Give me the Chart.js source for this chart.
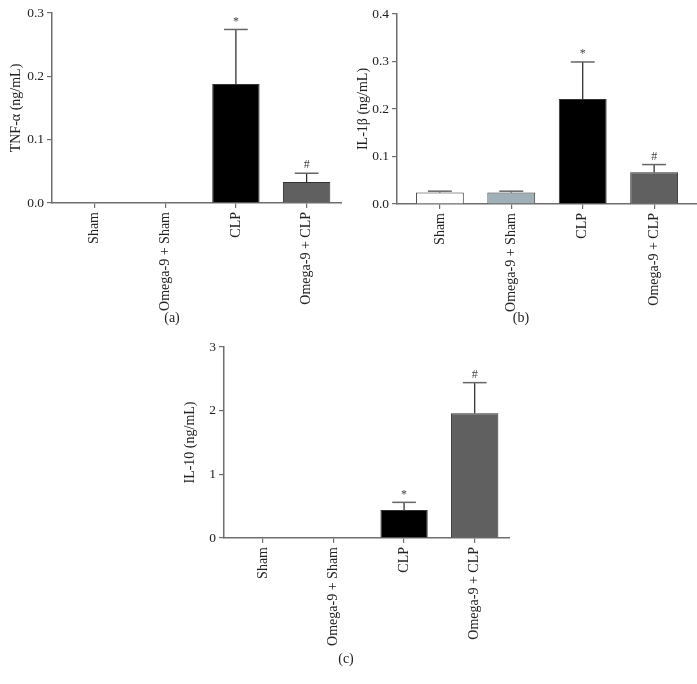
<!DOCTYPE html>
<html>
<head>
<meta charset="utf-8">
<script src="https://cdn.jsdelivr.net/npm/chart.js@4"></script>
<style>
  body { margin: 0; background: #fff; width: 697px; height: 684px; position: relative; overflow: hidden; }
  .panel { position: absolute; }
  .cap { position: absolute; font-family: "Liberation Serif", serif; font-size: 14px; color: #222; transform: translateX(-50%); }
</style>
</head>
<body>
<div class="panel" style="left:0;top:0"><canvas id="graficoA" width="342" height="320"></canvas></div>
<div class="panel" style="left:345px;top:0"><canvas id="graficoB" width="352" height="320"></canvas></div>
<div class="panel" style="left:172px;top:334px"><canvas id="graficoC" width="338" height="330"></canvas></div>
<div class="cap" style="left:172px;top:310px">(a)</div>
<div class="cap" style="left:521px;top:310px">(b)</div>
<div class="cap" style="left:346px;top:651px">(c)</div>
<script>
// grupos
const grupos = ['Sham', 'Omega-9 + Sham', 'CLP', 'Omega-9 + CLP'];

// (a) TNF-alpha
const tnfMedia = [0, 0, 0.188, 0.033];
const tnfErro = [null, null, 0.086, 0.014];
const tnfMarca = ['', '', '*', '#'];

// (b) IL-1beta
const il1Media = [0.024, 0.024, 0.221, 0.067];
const il1Erro = [0.003, 0.003, 0.078, 0.016];
const il1Marca = ['', '', '*', '#'];

// (c) IL-10
const il10Media = [0, 0, 0.44, 1.96];
const il10Erro = [null, null, 0.12, 0.48];
const il10Marca = ['', '', '*', '#'];

const coresBarras = ['#ffffff', '#9fb0b8', '#000000', '#606060'];
const corEixo = '#6e6e6e';
const fonte = '"Liberation Serif", "Times New Roman", serif';

// barras de erro (so para cima) e marcas de significancia
const errosPlugin = {
    id: 'erros',
    afterDatasetsDraw(chart, args, opts) {
        const ctx = chart.ctx;
        const y = chart.scales.y;
        const meta = chart.getDatasetMeta(0);
        const ds = chart.data.datasets[0];
        meta.data.forEach((bar, i) => {
            const err = opts.erros[i];
            if (err == null) return;
            const v = ds.data[i].y;
            const topo = y.getPixelForValue(v + err);
            const base = bar.y;
            const meia = bar.width / 4;
            ctx.save();
            ctx.strokeStyle = '#222';
            ctx.lineWidth = 1.2;
            ctx.beginPath();
            ctx.moveTo(bar.x, base);
            ctx.lineTo(bar.x, topo);
            ctx.stroke();
            ctx.strokeStyle = '#666';
            ctx.lineWidth = 1.5;
            ctx.beginPath();
            ctx.moveTo(bar.x - meia, topo);
            ctx.lineTo(bar.x + meia, topo);
            ctx.stroke();
            if (opts.marcas[i]) {
                ctx.fillStyle = '#444';
                ctx.font = '12px ' + fonte;
                ctx.textAlign = 'center';
                ctx.textBaseline = 'bottom';
                ctx.fillText(opts.marcas[i], bar.x, topo - 2);
            }
            ctx.restore();
        });
    }
};

function criaGrafico(id, media, erro, marca, cfg) {
    return new Chart(document.getElementById(id), {
        type: 'bar',
        data: {
            datasets: [{
                data: media.map((v, i) => ({ x: i, y: v })),
                backgroundColor: coresBarras,
                borderColor: '#333',
                borderWidth: media.map(v => v > 0 ? 1 : 0),
                categoryPercentage: 1,
                barPercentage: 0.67
            }]
        },
        options: {
            responsive: false,
            animation: false,
            devicePixelRatio: 1,
            layout: { padding: { top: cfg.topo, right: 0, left: 0, bottom: 0 } },
            plugins: {
                legend: { display: false },
                tooltip: { enabled: false },
                erros: { erros: erro, marcas: marca }
            },
            scales: {
                x: {
                    type: 'linear',
                    offset: false,
                    min: cfg.xMin,
                    max: cfg.xMax,
                    afterBuildTicks: s => { s.ticks = grupos.map((g, i) => ({ value: i })); },
                    afterFit: s => { s.height = cfg.alturaX; },
                    border: { display: true, color: corEixo, width: 1.5 },
                    grid: { display: true, offset: false, drawOnChartArea: false, drawTicks: true, tickLength: 5, color: corEixo, lineWidth: 1.2 },
                    ticks: {
                        autoSkip: false,
                        minRotation: 90,
                        maxRotation: 90,
                        padding: 4,
                        color: '#222',
                        font: { family: fonte, size: 14 },
                        callback: v => grupos[v]
                    }
                },
                y: {
                    min: 0,
                    max: cfg.yMax,
                    afterFit: s => { s.width = 52; },
                    border: { display: true, color: corEixo, width: 1.5 },
                    grid: { display: true, drawOnChartArea: false, drawTicks: true, tickLength: 5, color: corEixo, lineWidth: 1.2 },
                    ticks: {
                        stepSize: cfg.passo,
                        padding: 3,
                        color: '#222',
                        font: { family: fonte, size: 13.5 },
                        callback: v => v.toFixed(cfg.casas)
                    },
                    title: {
                        display: true,
                        text: cfg.titulo,
                        color: '#222',
                        padding: { top: cfg.padTitulo, bottom: 0 },
                        font: { family: fonte, size: 14 }
                    }
                }
            }
        },
        plugins: [errosPlugin]
    });
}

criaGrafico('graficoA', tnfMedia, tnfErro, tnfMarca, {
    titulo: 'TNF-α (ng/mL)', yMax: 0.3, passo: 0.1, casas: 1,
    xMin: -0.6, xMax: 3.5, topo: 13, alturaX: 117, padTitulo: 8
});

criaGrafico('graficoB', il1Media, il1Erro, il1Marca, {
    titulo: 'IL-1β (ng/mL)', yMax: 0.4, passo: 0.1, casas: 1,
    xMin: -0.6, xMax: 3.6, topo: 14, alturaX: 116, padTitulo: 10
});

criaGrafico('graficoC', il10Media, il10Erro, il10Marca, {
    titulo: 'IL-10 (ng/mL)', yMax: 3, passo: 1, casas: 0,
    xMin: -0.55, xMax: 3.5, topo: 13, alturaX: 126, padTitulo: 10
});
</script>
</body>
</html>
